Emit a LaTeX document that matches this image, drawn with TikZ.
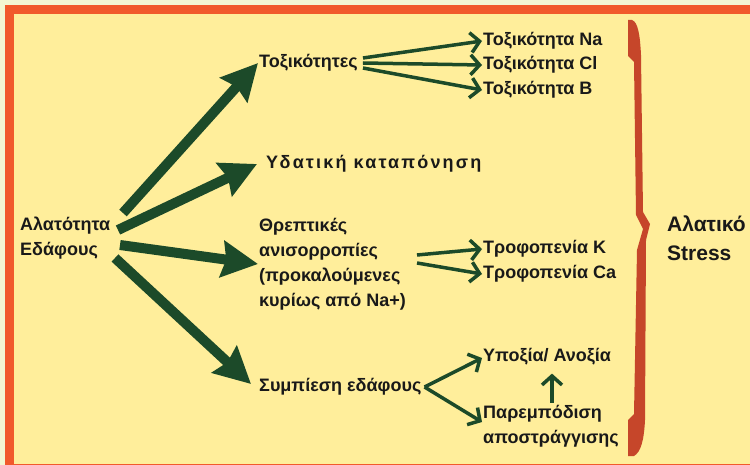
\documentclass[tikz,border=0pt]{standalone}
\usepackage{fontspec}
\setmainfont{Liberation Sans}
\usetikzlibrary{arrows.meta}
\definecolor{bgpale}{HTML}{F3F7D2}
\definecolor{panel}{HTML}{FFEE9B}
\definecolor{frame}{HTML}{F15A2B}
\definecolor{bracecol}{HTML}{C6462A}
\definecolor{leaf}{HTML}{1C4A29}
\begin{document}
\begin{tikzpicture}[x=1pt,y=-1pt,
    lbl/.style={anchor=west,inner sep=1pt,text=black!90,align=left,
      font=\bfseries\fontsize{18}{25}\selectfont},
    biglbl/.style={lbl,font=\bfseries\fontsize{21}{29}\selectfont},
    bigarrow/.style={leaf,line width=10pt,-{Stealth[length=36pt,width=36pt,inset=4pt]}},
    smallarrow/.style={leaf,line width=3.5pt,-{Straight Barb[length=9pt,width=20pt]}}]
  \useasboundingbox (0,0) rectangle (750,465);
  \fill[bgpale] (0,0) rectangle (750,465);
  \draw[frame,line width=9pt,fill=panel] (9,10) rectangle (770,468);

  % left column
  \node[lbl] (salt) at (19,238) {Αλατότητα\\Εδάφους};

  % middle column
  \node[lbl] (tox) at (258,63) {Τοξικότητες};
  \node[lbl] (water) at (265,164) {\addfontfeature{LetterSpace=12}Υδατική καταπόνηση};
  \node[lbl] (nutr) at (258,264) {Θρεπτικές\\ανισορροπίες\\(προκαλούμενες\\κυρίως από Na+)};
  \node[lbl] (comp) at (258,387) {Συμπίεση εδάφους};

  % right column
  \node[lbl] (toxna) at (482,41) {Τοξικότητα Na};
  \node[lbl] (toxcl) at (482,65) {Τοξικότητα Cl};
  \node[lbl] (toxb) at (482,90) {Τοξικότητα B};
  \node[lbl] (defk) at (482,249) {Τροφοπενία K};
  \node[lbl] (defca) at (482,274) {Τροφοπενία Ca};
  \node[lbl] (hyp) at (482,357) {Υποξία/ Ανοξία};
  \node[lbl] (drain) at (482,426) {Παρεμπόδιση\\αποστράγγισης};
  \node[biglbl] (stress) at (666,238) {Αλατικό\\Stress};

  % thick arrows out of the soil salinity
  \coordinate (s1) at (123,213);
  \coordinate (s2) at (118,230);
  \coordinate (s3) at (120,245);
  \coordinate (s4) at (115,258);
  \draw[bigarrow] (s1) -- (tox.west);
  \draw[bigarrow] (s2) -- ([xshift=-8pt]water.west);
  \draw[bigarrow] (s3) -- (nutr.west);
  \draw[bigarrow] (s4) -- ([shift={(-7pt,3pt)}]comp.west);

  % thin arrows
  \draw[smallarrow] ([shift={(4pt,5pt)}]tox.east) -- (toxna.west);
  \draw[smallarrow] ([xshift=4pt]tox.east) -- (toxcl.west);
  \draw[smallarrow] ([shift={(4pt,-5pt)}]tox.east) -- (toxb.west);
  \draw[smallarrow] (417,255) -- (defk.west);
  \draw[smallarrow] (417,263) -- (defca.west);
  \draw[smallarrow] ([xshift=2pt]comp.east) -- ([yshift=-1pt]hyp.west);
  \draw[smallarrow] ([xshift=2pt]comp.east) -- ([yshift=4pt]drain.west);
  \coordinate (upx) at (552,0);
  \draw[smallarrow] ([yshift=1pt]drain.north -| upx) -- ([yshift=-7pt]hyp.south -| upx);

  % brace
  \fill[bracecol] (628,20) -- (632,20) .. controls (638,22) and (640,35) .. (641,55)
    -- (643,212) -- (650,224) -- (646,240) -- (645,420)
    .. controls (644,440) and (641,452) .. (634,456) -- (628,456) -- (628,420)
    -- (634,414) -- (637,250) -- (643,229) -- (636,215) -- (634,62) -- (628,56) -- cycle;
\end{tikzpicture}
\end{document}
